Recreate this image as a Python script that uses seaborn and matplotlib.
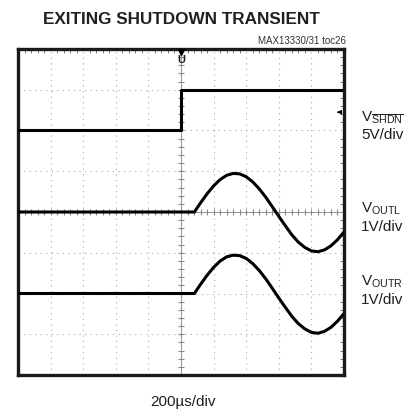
import numpy as np
import pandas as pd
import matplotlib
matplotlib.use("Agg")
import matplotlib.pyplot as plt
import seaborn as sns

# time in microseconds (200us/div, trigger at 0)
shdn_t = [-1000, 0, 0, 1000]
shdn_v = [0, 0, 5, 5]

out_t = [-1000, 82, 120, 160, 200, 240, 280, 320, 360, 400, 440, 480, 520,
         560, 600, 640, 680, 720, 760, 800, 840, 880, 920, 960, 1000]
outl_v = [0, 0, 0.225, 0.447, 0.641, 0.796, 0.900, 0.947, 0.936, 0.865, 0.739,
          0.568, 0.363, 0.131, -0.107, -0.337, -0.560, -0.740, -0.870, -0.955,
          -0.975, -0.930, -0.830, -0.680, -0.490]
outr_v = [0, 0, 0.225, 0.447, 0.641, 0.796, 0.900, 0.940, 0.930, 0.860, 0.735,
          0.565, 0.360, 0.128, -0.110, -0.340, -0.560, -0.740, -0.870, -0.955,
          -0.975, -0.930, -0.830, -0.680, -0.490]

# channel offset (div from bottom) and scale (V/div)
channels = {"SHDN": (6, 5.0), "OUTL": (4, 1.0), "OUTR": (2, 1.0)}

rows = []
for name, t, v in [("SHDN", shdn_t, shdn_v), ("OUTL", out_t, outl_v), ("OUTR", out_t, outr_v)]:
    off, sc = channels[name]
    for ti, vi in zip(t, v):
        rows.append({"ch": name, "t": ti, "y": off + vi / sc})
df = pd.DataFrame(rows)

sns.set_style("white")
plt.rcParams["font.family"] = ["Liberation Sans", "DejaVu Sans"]
plt.rcParams["mathtext.fontset"] = "custom"
plt.rcParams["mathtext.rm"] = "Liberation Sans"
txt = "#231f20"

fig = plt.figure(figsize=(4.17, 4.15), dpi=100)
W, H = 417, 415
ax = fig.add_axes([18 / W, 40 / H, 326 / W, 326 / H])

ax.set_xlim(-1000, 1000)
ax.set_ylim(0, 8)

# graticule
for xv in np.arange(-800, 1000, 200):
    ax.axvline(xv, color="#a8a8a8", lw=0.8, ls=(0, (1, 4)), zorder=1)
for yv in range(1, 8):
    ax.axhline(yv, color="#a8a8a8", lw=0.8, ls=(0, (1, 4)), zorder=1)
# center cross with minor marks
ax.plot(np.zeros(41), np.linspace(0, 8, 41), color="#888888", lw=0.6,
        marker="_", ms=4, mew=0.8, zorder=1)
ax.plot(np.linspace(-1000, 1000, 51), np.full(51, 4), color="#888888", lw=0.6,
        marker="|", ms=4, mew=0.8, zorder=1)

for name in ["SHDN", "OUTL", "OUTR"]:
    d = df[df.ch == name]
    sns.lineplot(data=d, x="t", y="y", ax=ax, color="black", lw=2.2,
                 estimator=None, sort=False, zorder=3)

ax.set_xticks(np.arange(-1000, 1001, 200))
ax.set_yticks(range(0, 9))
ax.set_xticks(np.arange(-1000, 1001, 40), minor=True)
ax.set_yticks(np.arange(0, 8.01, 0.2), minor=True)
ax.tick_params(which="both", direction="in", top=True, right=True,
               labelbottom=False, labelleft=False, color="#777777")
ax.tick_params(which="major", length=0)
ax.tick_params(which="minor", length=3, width=0.7)
ax.set_xlabel("")
ax.set_ylabel("")
for s in ax.spines.values():
    s.set_linewidth(2.4)
    s.set_color("#1a1a1a")

# trigger marker and level arrow
ax.plot([0], [7.93], marker="v", color="black", ms=4, clip_on=False, zorder=4)
ax.text(0, 7.72, "U", ha="center", va="center", fontsize=8, fontweight="bold",
        color=txt)
ax.annotate("", xy=(940, 6.45), xytext=(985, 6.45),
            arrowprops=dict(arrowstyle="-|>", color="black", lw=0.8,
                            mutation_scale=6))

fig.text(181 / W, 1 - 20 / H, "EXITING SHUTDOWN TRANSIENT", ha="center",
         va="center", fontsize=12.3, fontweight="bold", color=txt)
fig.text(346 / W, 1 - 41 / H, "MAX13330/31 toc26", ha="right", va="center",
         fontsize=7, color="#333333")

lab_x = 361 / W
fs = 11
fig.text(lab_x, 1 - 118 / H, r"V$_\mathregular{\overline{SHDN}}$", ha="left",
         va="center", fontsize=fs, color=txt)
fig.text(lab_x, 1 - 135 / H, "5V/div", ha="left", va="center", fontsize=fs,
         color=txt)
fig.text(lab_x, 1 - 209 / H, r"V$_\mathregular{OUTL}$", ha="left",
         va="center", fontsize=fs, color=txt)
fig.text(lab_x, 1 - 227 / H, "1V/div", ha="left", va="center", fontsize=fs,
         color=txt)
fig.text(lab_x, 1 - 282 / H, r"V$_\mathregular{OUTR}$", ha="left",
         va="center", fontsize=fs, color=txt)
fig.text(lab_x, 1 - 300 / H, "1V/div", ha="left", va="center", fontsize=fs,
         color=txt)

fig.text(183 / W, 1 - 402 / H, "200\u00b5s/div", ha="center", va="center",
         fontsize=fs, color=txt)

fig.savefig("out.png", dpi=100)
